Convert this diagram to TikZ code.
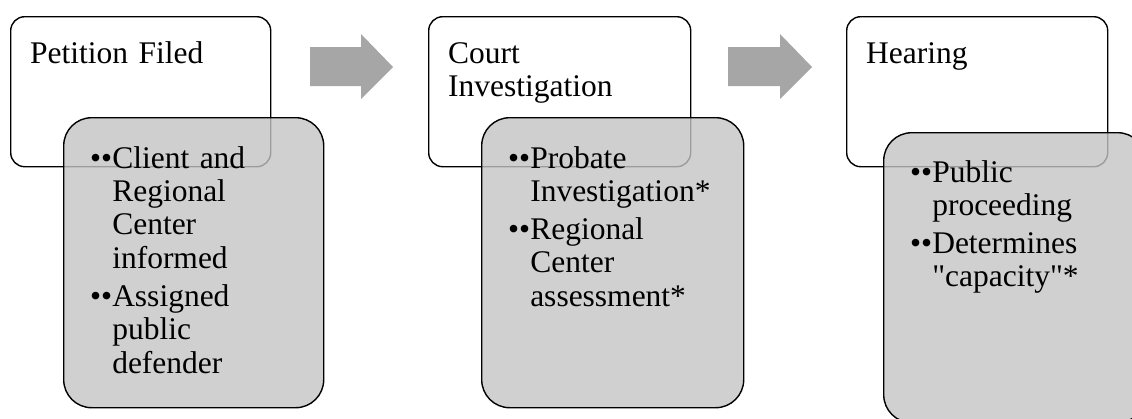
\documentclass[tikz,border=0pt]{standalone}
\usepackage{fontspec}
\setmainfont{Liberation Serif}
\usepackage{calc}
\newcommand\bulmk{••}
\newcommand\bulind{\hspace*{\widthof{••}}}
\definecolor{subfill}{RGB}{196,196,196}
\definecolor{arrowgray}{RGB}{166,166,166}
\begin{document}
\begin{tikzpicture}[x=1pt,y=-1pt,
  stagebox/.style={draw=black, line width=1.4pt, fill=white, rounded corners=14pt, anchor=north west, inner sep=0pt},
  subbox/.style={draw=black, line width=1.4pt, fill=subfill, fill opacity=0.8, rounded corners=28pt, anchor=north west, inner sep=0pt},
  bigtext/.style={font=\fontsize{31.5}{33.4}\selectfont, anchor=base west, inner sep=0pt, text width=240pt, align=left},
  flowarrow/.style={fill=arrowgray, draw=none}]
\useasboundingbox (0,0) rectangle (1132,418);
\clip (0,0) rectangle (1132,418);
% stage 1
\node[stagebox, minimum width=260pt, minimum height=150pt] (s1) at (10,16) {};
\node[subbox, minimum width=260pt, minimum height=290pt] (d1) at (63,117) {};
\node[bigtext] (t1) at (30,63) {Petition Filed};
\node[bigtext] (l1) at (90,168) {\bulmk Client and\\\bulind Regional\\\bulind Center\\\bulind informed\\[4.6pt]\bulmk Assigned\\\bulind public\\\bulind defender};
% stage 2
\node[stagebox, minimum width=262pt, minimum height=150pt] (s2) at (428,16) {};
\node[subbox, minimum width=262pt, minimum height=290pt] (d2) at (481,117) {};
\node[bigtext] (t2) at (448,63) {Court\\Investigation};
\node[bigtext] (l2) at (508,168) {\bulmk Probate\\\bulind Investigation*\\[4.6pt]\bulmk Regional\\\bulind Center\\\bulind assessment*};
% stage 3
\node[stagebox, minimum width=261pt, minimum height=150pt] (s3) at (846,16) {};
\node[subbox, minimum width=262pt, minimum height=290pt] (d3) at (883,132) {};
\node[bigtext] (t3) at (866,63) {Hearing};
\node[bigtext] (l3) at (910,182) {\bulmk Public\\\bulind proceeding\\[4.6pt]\bulmk Determines\\\bulind \textquotedbl capacity\textquotedbl*};
% arrows
\fill[flowarrow] (310,47) -- (361,47) -- (361,34) -- (393,67) -- (361,99) -- (361,86) -- (310,86) -- cycle;
\fill[flowarrow] (728,47) -- (780,47) -- (780,34) -- (812,67) -- (780,99) -- (780,86) -- (728,86) -- cycle;
\end{tikzpicture}
\end{document}
